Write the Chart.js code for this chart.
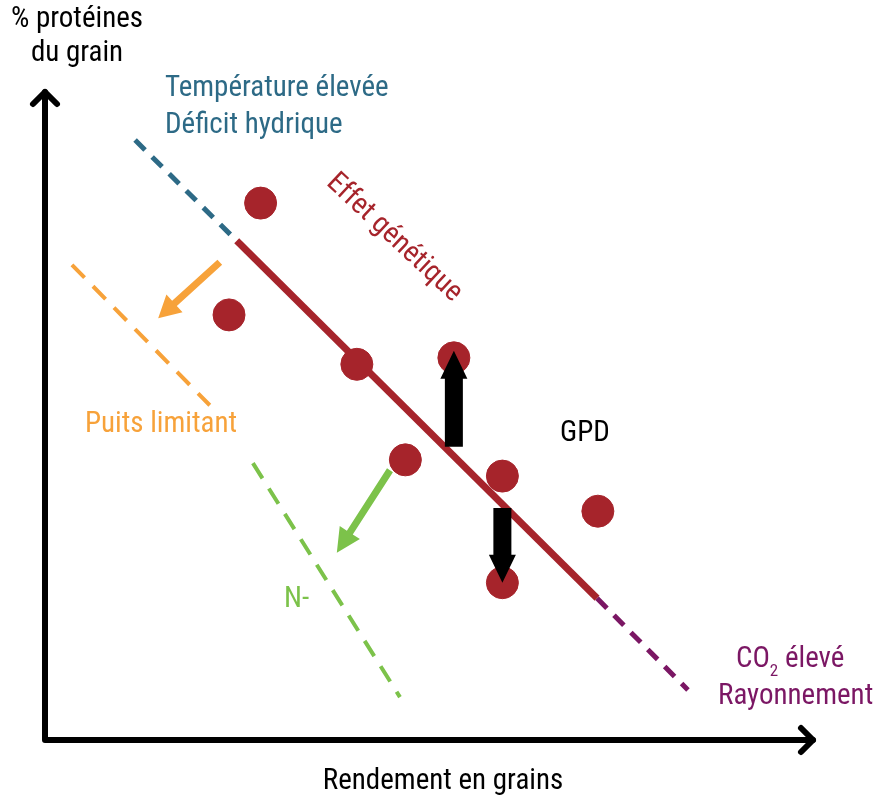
<!DOCTYPE html>
<html>
<head>
<meta charset="utf-8">
<script src="https://cdn.jsdelivr.net/npm/chart.js@4.4.1/dist/chart.umd.min.js"></script>
<style>
    html, body { margin: 0; padding: 0; background: #fff; }
    #wrap { width: 880px; height: 803px; }
</style>
</head>
<body>
<div id="wrap"><canvas id="chart"></canvas></div>
<script>
// Points "génotypes" (rendement, % protéines), échelle 0-100
const grainX = [28.0, 23.9, 40.5, 53.1, 46.8, 59.4, 71.8, 59.4];
const grainY = [82.6, 65.4, 57.8, 58.8, 43.1, 40.6, 35.2, 24.2];

// Droites
const geneticX = [24.9, 71.7];
const geneticY = [76.8, 21.8];
const heatX = [11.7, 24.9];
const heatY = [92.3, 76.8];
const co2X = [71.7, 83.5];
const co2Y = [21.8, 7.7];
const sinkX = [3.5, 21.4];
const sinkY = [73.1, 51.5];
const nitroX = [27.0, 46.1];
const nitroY = [42.6, 6.6];

// Flèches [x0, y0, x1 (pointe), y1]
const sinkArrow = [22.7, 73.5, 14.7, 64.9];
const nitroArrow = [44.8, 41.5, 37.9, 28.8];
const gpdUpArrow = [53.1, 45.1, 53.1, 59.9];
const gpdDownArrow = [59.4, 35.7, 59.4, 24.2];

const FONT = '"Liberation Sans Narrow", "Roboto Condensed", Roboto, sans-serif';
const RED = '#a6242b';
const BLUE = '#2d6a86';
const PURPLE = '#7b1764';
const ORANGE = '#f7a23a';
const GREEN = '#7cc24a';

const toPoints = (xs, ys) => xs.map((x, i) => ({ x: x, y: ys[i] }));

const lineDs = (xs, ys, color, width, dash) => ({
    type: 'line',
    data: toPoints(xs, ys),
    borderColor: color,
    borderWidth: width,
    borderDash: dash,
    pointRadius: 0,
    fill: false,
    showLine: true,
    clip: false
});

// Flèche pleine (corps + pointe)
const blockArrow = (ctx, xs, ys, a, color, shaft, headW, headL) => {
    const x0 = xs.getPixelForValue(a[0]), y0 = ys.getPixelForValue(a[1]);
    const x1 = xs.getPixelForValue(a[2]), y1 = ys.getPixelForValue(a[3]);
    const ang = Math.atan2(y1 - y0, x1 - x0);
    const len = Math.hypot(x1 - x0, y1 - y0);
    ctx.save();
    ctx.translate(x0, y0);
    ctx.rotate(ang);
    ctx.fillStyle = color;
    ctx.beginPath();
    ctx.moveTo(0, -shaft / 2);
    ctx.lineTo(len - headL, -shaft / 2);
    ctx.lineTo(len - headL, -headW / 2);
    ctx.lineTo(len, 0);
    ctx.lineTo(len - headL, headW / 2);
    ctx.lineTo(len - headL, shaft / 2);
    ctx.lineTo(0, shaft / 2);
    ctx.closePath();
    ctx.fill();
    ctx.restore();
};

const annotations = {
    id: 'annotations',
    afterDatasetsDraw(chart) {
        const { ctx, chartArea: ca, scales: { x, y } } = chart;

        // Axes avec flèches en chevron
        ctx.save();
        ctx.strokeStyle = '#000';
        ctx.lineWidth = 6;
        ctx.lineCap = 'round';
        ctx.lineJoin = 'round';
        ctx.beginPath();
        ctx.moveTo(ca.left, ca.top + 2);
        ctx.lineTo(ca.left, ca.bottom);
        ctx.lineTo(ca.right - 2, ca.bottom);
        ctx.stroke();
        ctx.beginPath();
        ctx.moveTo(ca.left - 12, ca.top + 14);
        ctx.lineTo(ca.left, ca.top + 2);
        ctx.lineTo(ca.left + 12, ca.top + 14);
        ctx.moveTo(ca.right - 14, ca.bottom - 12);
        ctx.lineTo(ca.right - 2, ca.bottom);
        ctx.lineTo(ca.right - 14, ca.bottom + 12);
        ctx.stroke();
        ctx.restore();

        blockArrow(ctx, x, y, sinkArrow, ORANGE, 7, 24, 22);
        blockArrow(ctx, x, y, nitroArrow, GREEN, 7, 24, 24);
        blockArrow(ctx, x, y, gpdUpArrow, '#000', 18, 27, 28);
        blockArrow(ctx, x, y, gpdDownArrow, '#000', 18, 27, 28);

        // Textes
        const text = (str, px, py, color, align) => {
            ctx.fillStyle = color;
            ctx.textAlign = align || 'left';
            ctx.fillText(str, px, py);
        };
        ctx.save();
        ctx.font = '29px ' + FONT;
        ctx.textBaseline = 'middle';
        text('% protéines', 77, 20, '#000', 'center');
        text('du grain', 77, 54, '#000', 'center');
        text('Température élevée', 165, 89, BLUE);
        text('Déficit hydrique', 165, 126, BLUE);
        text('Puits limitant', 85, 425, ORANGE);
        text('GPD', 560, 434, '#000');
        text('N-', 284, 600, GREEN);
        text('Rayonnement', 718, 697, PURPLE);
        text('Rendement en grains', 443, 782, '#000', 'center');
        // CO2 avec indice
        ctx.fillStyle = PURPLE;
        ctx.textAlign = 'left';
        ctx.fillText('CO', 736, 660);
        const coW = ctx.measureText('CO').width;
        ctx.font = '17px ' + FONT;
        ctx.fillText('2', 736 + coW, 672);
        const subW = ctx.measureText('2').width;
        ctx.font = '29px ' + FONT;
        ctx.fillText(' élevé', 736 + coW + subW, 660);
        // Effet génétique en diagonale
        ctx.translate(394, 238);
        ctx.rotate(43 * Math.PI / 180);
        text('Effet génétique', 0, 0, RED, 'center');
        ctx.restore();
    }
};

document.addEventListener('DOMContentLoaded', () => {
    const canvas = document.getElementById('chart');
    new Chart(canvas.getContext('2d'), {
        type: 'scatter',
        data: {
            datasets: [
                lineDs(heatX, heatY, BLUE, 5, [14, 10]),
                lineDs(co2X, co2Y, PURPLE, 5, [14, 10]),
                lineDs(sinkX, sinkY, ORANGE, 4, [18, 12]),
                lineDs(nitroX, nitroY, GREEN, 4, [18, 12]),
                lineDs(geneticX, geneticY, RED, 7, []),
                {
                    data: toPoints(grainX, grainY),
                    backgroundColor: RED,
                    borderColor: RED,
                    pointRadius: 16,
                    pointHoverRadius: 16,
                    clip: false
                }
            ]
        },
        options: {
            responsive: true,
            maintainAspectRatio: false,
            animation: false,
            events: [],
            layout: { padding: { left: 45, top: 90, right: 65, bottom: 63 } },
            plugins: { legend: { display: false }, tooltip: { enabled: false } },
            scales: {
                x: { type: 'linear', min: 0, max: 100, display: false },
                y: { type: 'linear', min: 0, max: 100, display: false }
            }
        },
        plugins: [annotations]
    });
});
</script>
</body>
</html>
